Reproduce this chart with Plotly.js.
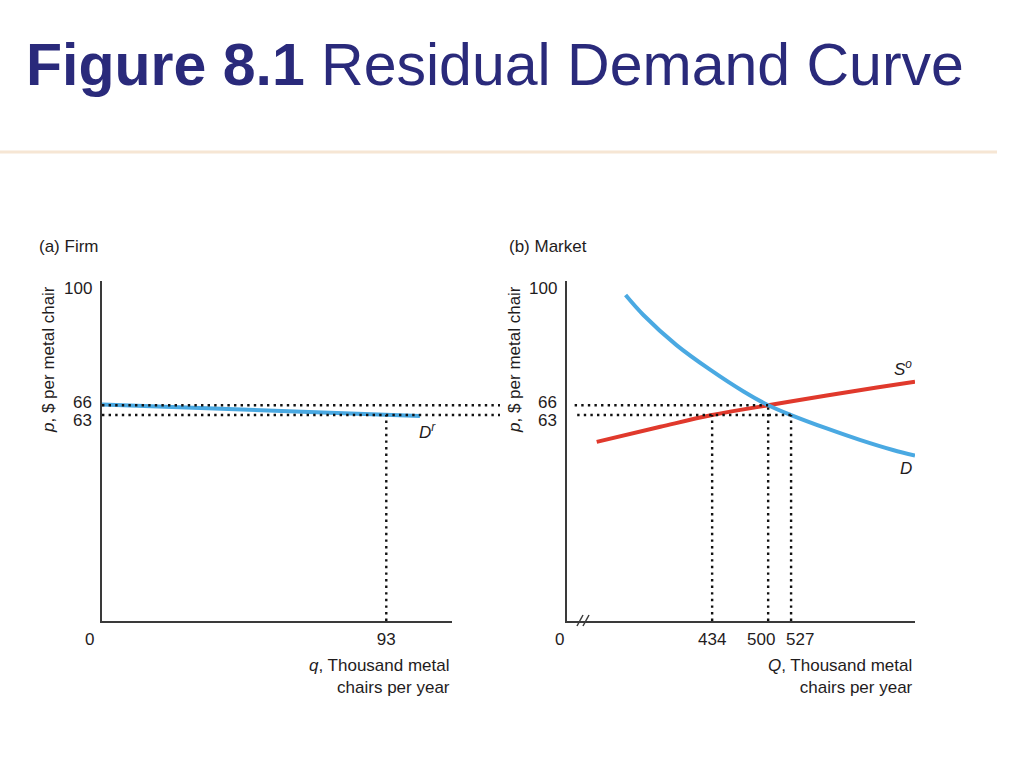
<!DOCTYPE html>
<html>
<head>
<meta charset="utf-8">
<script src="https://cdn.plot.ly/plotly-3.0.1.min.js"></script>
<style>
  html, body { margin: 0; padding: 0; background: #ffffff; }
  #chart { width: 1024px; height: 779px; }
</style>
</head>
<body>
<div id="chart"></div>
<script>
// ---- Data ----
// (a) Firm: residual demand curve D^r
const firmQ = [0, 93, 104];
const firmP = [66.2, 63.0, 62.7];

// (b) Market: demand D and other firms' supply S^o
const demandQ = [332, 353, 392, 432, 471, 500, 527, 569, 608, 647, 673];
const demandP = [99.7, 93.6, 84.4, 76.8, 70.2, 66.0, 63.0, 58.9, 55.4, 52.3, 50.6];
const supplyQ = [298, 373, 434, 500, 569, 628, 673];
const supplyP = [54.8, 59.4, 63.0, 66.0, 69.0, 71.4, 73.2];

// Reference values
const firmQuantity = 93;
const marketPrice = 66;
const residualPrice = 63;
const marketQuantities = [434, 500, 527];   // supply at 63, equilibrium, demand at 63
const marketPrices = [63, 66, 63];
const firmTicks = [93];
const marketTicks = [434, 500, 527];
const yTickLabels = ['100', '66', '63'];
const yTickValues = [100, 66, 63];

// ---- Styling ----
const FONT = 'Liberation Sans, Arial, Helvetica, sans-serif';
const TXT = '#1f1c1d';
const BLUE = '#4aa9e2';
const RED = '#e0392c';
const AX = '#3a3a3a';
const dotLine = {color: '#111111', width: 2.4, dash: '2.4px,4.2px'};

const W = 1024, H = 779;
const px = v => v / W;
const py = v => 1 - v / H;

const xA = [px(102), px(452)];
const xB = [px(567), px(915)];
const yDom = [py(621), py(281)];
const xRangeA = [0, 114.5];
const xRangeB = [263, 673];
const yRange = [0, 104];

const traces = [
  {x: firmQ, y: firmP, xaxis: 'x', yaxis: 'y', mode: 'lines',
   line: {color: BLUE, width: 4}, hoverinfo: 'skip'},
  {x: supplyQ, y: supplyP, xaxis: 'x2', yaxis: 'y2', mode: 'lines',
   line: {color: RED, width: 4, shape: 'spline', smoothing: 1}, hoverinfo: 'skip'},
  {x: demandQ, y: demandP, xaxis: 'x2', yaxis: 'y2', mode: 'lines',
   line: {color: BLUE, width: 4, shape: 'spline', smoothing: 1}, hoverinfo: 'skip'}
];

const shapes = [];
// separator under the title
shapes.push({type: 'line', xref: 'paper', yref: 'paper', x0: 0, x1: px(997),
             y0: py(152), y1: py(152), line: {color: '#f6e6d4', width: 3}});
// horizontal dotted lines in panel (a), extending into the gap
[marketPrice, residualPrice].forEach(p => {
  shapes.push({type: 'line', xref: 'x domain', yref: 'y', x0: 0, x1: (500 - 102) / (452 - 102),
               y0: p, y1: p, line: dotLine});
});
// vertical dotted in panel (a)
shapes.push({type: 'line', xref: 'x', yref: 'y', x0: firmQuantity, x1: firmQuantity,
             y0: 0, y1: residualPrice, line: dotLine});
// horizontal dotted lines in panel (b)
shapes.push({type: 'line', xref: 'x2', yref: 'y2', x0: xRangeB[0] + 9, x1: 500,
             y0: marketPrice, y1: marketPrice, line: dotLine});
shapes.push({type: 'line', xref: 'x2', yref: 'y2', x0: xRangeB[0] + 12, x1: 527,
             y0: residualPrice, y1: residualPrice, line: dotLine});
// vertical dotted lines in panel (b)
marketQuantities.forEach((q, i) => {
  shapes.push({type: 'line', xref: 'x2', yref: 'y2', x0: q, x1: q,
               y0: 0, y1: marketPrices[i], line: dotLine});
});
// axis break marks on panel (b) x-axis
[0, 6].forEach(d => {
  shapes.push({type: 'line', xref: 'paper', yref: 'paper',
               x0: px(577 + d), x1: px(583 + d), y0: py(626), y1: py(615),
               line: {color: AX, width: 1.5}});
});

const ann = [];
const A = (o) => ann.push(Object.assign({showarrow: false, font: {family: FONT, size: 17, color: TXT}}, o));

// Title
A({xref: 'paper', yref: 'paper', x: px(24), y: py(65), xanchor: 'left', yanchor: 'middle',
   text: '<b>Figure 8.1</b> Residual Demand Curve',
   font: {family: FONT, size: 59, color: '#2a2a7b'}});

// Panel titles
A({xref: 'paper', yref: 'paper', x: px(37), y: py(246), xanchor: 'left', yanchor: 'middle', text: '(a) Firm'});
A({xref: 'paper', yref: 'paper', x: px(507), y: py(246), xanchor: 'left', yanchor: 'middle', text: '(b) Market'});

// Y axis titles
A({xref: 'paper', yref: 'paper', x: px(48), y: py(360), xanchor: 'center', yanchor: 'middle',
   textangle: -90, text: '<i>p</i>, $ per metal chair'});
A({xref: 'paper', yref: 'paper', x: px(514), y: py(360), xanchor: 'center', yanchor: 'middle',
   textangle: -90, text: '<i>p</i>, $ per metal chair'});

// Y tick labels (offset so 66/63 don't collide)
const yShifts = [6, 3, -5];
[['x domain', 'y'], ['x2 domain', 'y2']].forEach(([xr, yr]) => {
  yTickLabels.forEach((t, i) => {
    A({xref: xr, yref: yr, x: 0, y: yTickValues[i], xanchor: 'right', yanchor: 'middle',
       xshift: -8, yshift: yShifts[i], text: t});
  });
});

// Market x tick labels (500 and 527 nudged apart as in the figure)
const mShifts = [0, -7, 9];
marketTicks.forEach((q, i) => {
  A({xref: 'x2', yref: 'paper', x: q, y: py(639), xanchor: 'center', yanchor: 'middle',
     xshift: mShifts[i], text: String(q)});
});

// Zero labels at the origins
A({xref: 'paper', yref: 'paper', x: px(89), y: py(639), xanchor: 'center', yanchor: 'middle', text: '0'});
A({xref: 'paper', yref: 'paper', x: px(559), y: py(639), xanchor: 'center', yanchor: 'middle', text: '0'});

// X axis titles
A({xref: 'x domain', yref: 'paper', x: 1, y: py(654), xanchor: 'right', yanchor: 'top', align: 'right',
   text: '<i>q</i>, Thousand metal<br>chairs per year'});
A({xref: 'x2 domain', yref: 'paper', x: 1, y: py(654), xanchor: 'right', yanchor: 'top', align: 'right',
   text: '<i>Q</i>, Thousand metal<br>chairs per year'});

// Curve labels
A({xref: 'x', yref: 'y', x: firmQ[firmQ.length - 1], y: firmP[firmP.length - 1],
   xanchor: 'left', yanchor: 'top', xshift: -3, yshift: -2,
   text: '<i>D</i><sup><i>r</i></sup>'});
A({xref: 'x2', yref: 'y2', x: supplyQ[supplyQ.length - 1], y: supplyP[supplyP.length - 1],
   xanchor: 'right', yanchor: 'bottom', xshift: -1, yshift: 1,
   text: '<i>S</i><sup><i>o</i></sup>'});
A({xref: 'x2', yref: 'y2', x: demandQ[demandQ.length - 1], y: demandP[demandP.length - 1],
   xanchor: 'right', yanchor: 'top', xshift: -1, yshift: -1,
   text: '<i>D</i>'});

const axisCommon = {
  showgrid: false, zeroline: false, showline: true, linecolor: AX, linewidth: 2,
  fixedrange: true
};

const layout = {
  width: W, height: H,
  margin: {l: 0, r: 0, t: 0, b: 0},
  paper_bgcolor: '#ffffff', plot_bgcolor: 'rgba(0,0,0,0)',
  showlegend: false,
  font: {family: FONT, size: 17, color: TXT},
  xaxis: Object.assign({}, axisCommon, {domain: xA, range: xRangeA, anchor: 'y',
    tickmode: 'array', tickvals: firmTicks, ticktext: firmTicks.map(String), tickangle: 0,
    ticks: 'outside', ticklen: 2, tickcolor: 'rgba(0,0,0,0)', tickfont: {family: FONT, size: 17, color: TXT}}),
  yaxis: Object.assign({}, axisCommon, {domain: yDom, range: yRange, anchor: 'x', showticklabels: false, ticks: ''}),
  xaxis2: Object.assign({}, axisCommon, {domain: xB, range: xRangeB, anchor: 'y2',
    tickmode: 'array', tickvals: marketTicks, showticklabels: false, ticks: ''}),
  yaxis2: Object.assign({}, axisCommon, {domain: yDom, range: yRange, anchor: 'x2', showticklabels: false, ticks: ''}),
  shapes: shapes,
  annotations: ann
};

Plotly.newPlot('chart', traces, layout, {displayModeBar: false, staticPlot: true});
</script>
</body>
</html>
